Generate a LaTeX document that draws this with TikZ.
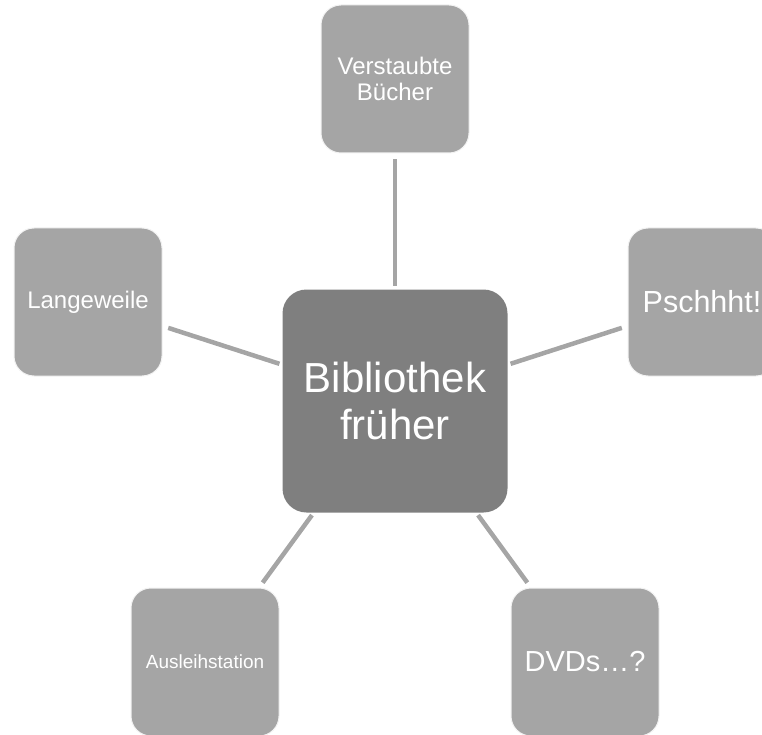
\documentclass[tikz,border=0pt]{standalone}
\usepackage{fontspec}
\setmainfont{Liberation Sans}
\definecolor{hubgray}{HTML}{7F7F7F}
\definecolor{leafgray}{HTML}{A5A5A5}

\begin{document}
\begin{tikzpicture}[
    x=1pt, y=-1pt,
    hub/.style={rectangle, rounded corners=24pt, fill=hubgray, minimum width=225pt, minimum height=223pt, text=white, align=center, font=\fontsize{42}{47}\selectfont},
    leaf/.style={rectangle, rounded corners=20pt, fill=leafgray, draw=white!85!leafgray, line width=1pt, minimum size=148pt, text=white, align=center, inner sep=2pt},
    link/.style={draw=leafgray, line width=4.5pt, shorten <=6pt, shorten >=3pt},
    ]
    \clip (0,0) rectangle (762,735);

    \node[hub] (hub) at (395,401) {Bibliothek\\früher}; % Center node
    \node[leaf, font=\fontsize{24}{26}\selectfont] (buecher) at (395,79) {Verstaubte\\Bücher};
    \node[leaf, font=\fontsize{24}{28}\selectfont] (langeweile) at (88,302) {Langeweile};
    \node[leaf, font=\fontsize{30.5}{34}\selectfont] (pscht) at (702,302) {Pschhht!};
    \node[leaf, font=\fontsize{19}{22}\selectfont] (ausleihe) at (205,662) {Ausleihstation};
    \node[leaf, font=\fontsize{29}{33}\selectfont] (dvds) at (585,662) {DVDs…?};

    \draw[link] (buecher) -- (hub);
    \draw[link] (langeweile) -- (hub);
    \draw[link] (pscht) -- (hub);
    \draw[link] (ausleihe) -- (hub);
    \draw[link] (dvds) -- (hub);
\end{tikzpicture}
\end{document}
